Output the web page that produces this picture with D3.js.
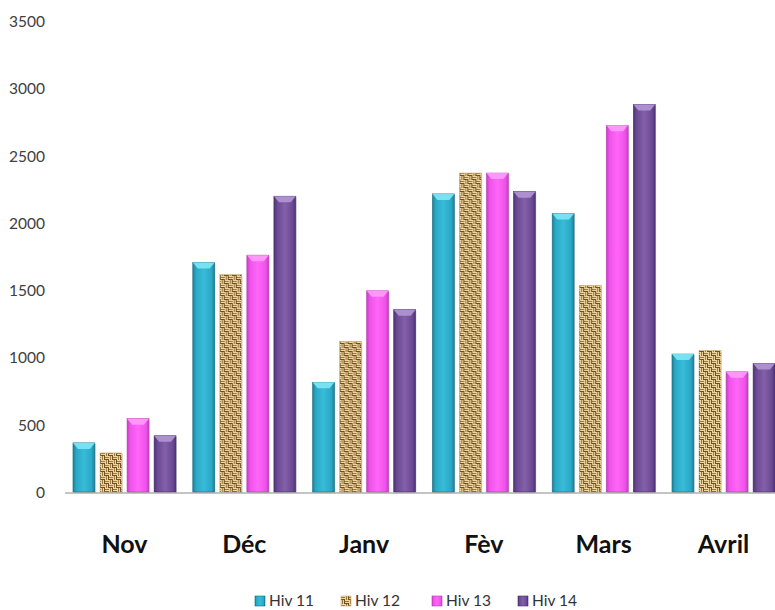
<!DOCTYPE html>
<html><head><meta charset="utf-8">
<script src="https://cdn.jsdelivr.net/npm/d3@7"></script>
<style>body{margin:0;background:#fff}svg{display:block}</style>
</head><body>
<svg id="c" width="775" height="610"></svg>
<script>
const months = ["Nov","Déc","Janv","Fèv","Mars","Avril"];
const seriesNames = ["Hiv 11","Hiv 12","Hiv 13","Hiv 14"];
const hiv11 = [365, 1705, 815, 2215, 2070, 1025];
const hiv12 = [290, 1615, 1118, 2370, 1535, 1052];
const hiv13 = [545, 1760, 1495, 2370, 2725, 893];
const hiv14 = [418, 2198, 1355, 2232, 2880, 955];
const yTicks = [0,500,1000,1500,2000,2500,3000,3500];

const values = [hiv11, hiv12, hiv13, hiv14];
const svg = d3.select("#c");
const defs = svg.append("defs");

const y = d3.scaleLinear().domain([0,3500]).range([492,21]);
const x0 = d3.scaleBand().domain(months).range([64.6,783.4]).paddingInner(0.14).paddingOuter(0.07);
const x1 = d3.scaleBand().domain(seriesNames).range([0,x0.bandwidth()]).paddingInner(0.19);

function grad(id, edge, mid, light){
  const g = defs.append("linearGradient").attr("id",id).attr("x1","0").attr("x2","1").attr("y1","0").attr("y2","0");
  g.append("stop").attr("offset","0").attr("stop-color",edge);
  g.append("stop").attr("offset","0.15").attr("stop-color",mid);
  g.append("stop").attr("offset","0.5").attr("stop-color",light);
  g.append("stop").attr("offset","0.85").attr("stop-color",mid);
  g.append("stop").attr("offset","1").attr("stop-color",edge);
}
grad("g0","#1f7f96","#2aa8c6","#38bcd8");
grad("g2","#c93ec2","#f052ec","#ff66f6");
grad("g3","#4f3276","#6b4a94","#8360a8");

// burlap basket-weave pattern
const pat = defs.append("pattern").attr("id","g1").attr("patternUnits","userSpaceOnUse").attr("width",8).attr("height",8);
pat.append("rect").attr("width",8).attr("height",8).attr("fill","#ecd7a2");
const brown = "#9c763c", dark = "#6e4f22";
// top-left quadrant: horizontal stripes
pat.append("rect").attr("x",0).attr("y",1).attr("width",4).attr("height",1).attr("fill",brown);
pat.append("rect").attr("x",0).attr("y",3).attr("width",4).attr("height",1).attr("fill",dark);
// top-right: vertical stripes
pat.append("rect").attr("x",5).attr("y",0).attr("width",1).attr("height",4).attr("fill",brown);
pat.append("rect").attr("x",7).attr("y",0).attr("width",1).attr("height",4).attr("fill",dark);
// bottom-left: vertical stripes
pat.append("rect").attr("x",1).attr("y",4).attr("width",1).attr("height",4).attr("fill",brown);
pat.append("rect").attr("x",3).attr("y",4).attr("width",1).attr("height",4).attr("fill",dark);
// bottom-right: horizontal stripes
pat.append("rect").attr("x",4).attr("y",5).attr("width",4).attr("height",1).attr("fill",brown);
pat.append("rect").attr("x",4).attr("y",7).attr("width",4).attr("height",1).attr("fill",dark);

const caps = ["#7fe6f5",null,"#ff9cfa","#b196d4"];
const strokesC = ["#1c6e84","#c9ac72","#b53cb0","#46306a"];

const yAxis = d3.axisLeft(y).tickValues(yTicks).tickSize(0).tickPadding(0).tickFormat(d3.format("d"));
const ga = svg.append("g").attr("transform","translate(45,0)").call(yAxis);
ga.select(".domain").remove();
ga.selectAll("text").attr("font-family","Lato, 'Open Sans', sans-serif").attr("font-size",15.5).attr("fill","#404040").attr("dy","0.35em");

const groups = svg.append("g").selectAll("g").data(months).join("g")
  .attr("transform",m=>`translate(${x0(m)},0)`);
seriesNames.forEach((s,si)=>{
  groups.each(function(m,mi){
    const v = values[si][mi];
    const g = d3.select(this);
    const bx = x1(s), bw = x1.bandwidth(), by = y(v), bh = y(0)-y(v);
    g.append("rect").attr("x",bx+1).attr("y",by+1).attr("width",bw).attr("height",bh).attr("fill","#000").attr("opacity",0.12);
    g.append("rect").attr("x",bx).attr("y",by).attr("width",bw).attr("height",bh)
      .attr("fill",`url(#g${si})`).attr("stroke",strokesC[si]).attr("stroke-width",0.6);
    if(caps[si]){
      g.append("path").attr("d",`M${bx},${by} L${bx+bw},${by} L${bx+bw-5},${by+6} L${bx+5},${by+6} Z`)
        .attr("fill",caps[si]).attr("opacity",0.9);
    }
  });
});

svg.append("line").attr("x1",65).attr("x2",775).attr("y1",493).attr("y2",493).attr("stroke","#8a8a8a").attr("stroke-width",1.2);

svg.append("g").selectAll("text").data(months).join("text")
  .attr("x",m=>x0(m)+x0.bandwidth()/2).attr("y",553).attr("text-anchor","middle")
  .attr("font-family","Lato, 'Open Sans', sans-serif").attr("font-weight","bold").attr("font-size",25).attr("fill","#111")
  .text(m=>m);

const legX = [255,341,432,518];
const lg = svg.append("g").selectAll("g").data(seriesNames).join("g").attr("transform",(d,i)=>`translate(${legX[i]},596)`);
lg.append("rect").attr("width",10).attr("height",10).attr("fill",(d,i)=>`url(#g${i})`).attr("stroke",(d,i)=>strokesC[i]).attr("stroke-width",0.6);
lg.append("text").attr("x",14).attr("y",10).attr("font-family","Lato, 'Open Sans', sans-serif").attr("font-size",15.5).attr("fill","#333").text(d=>d);
</script>
</body></html>
